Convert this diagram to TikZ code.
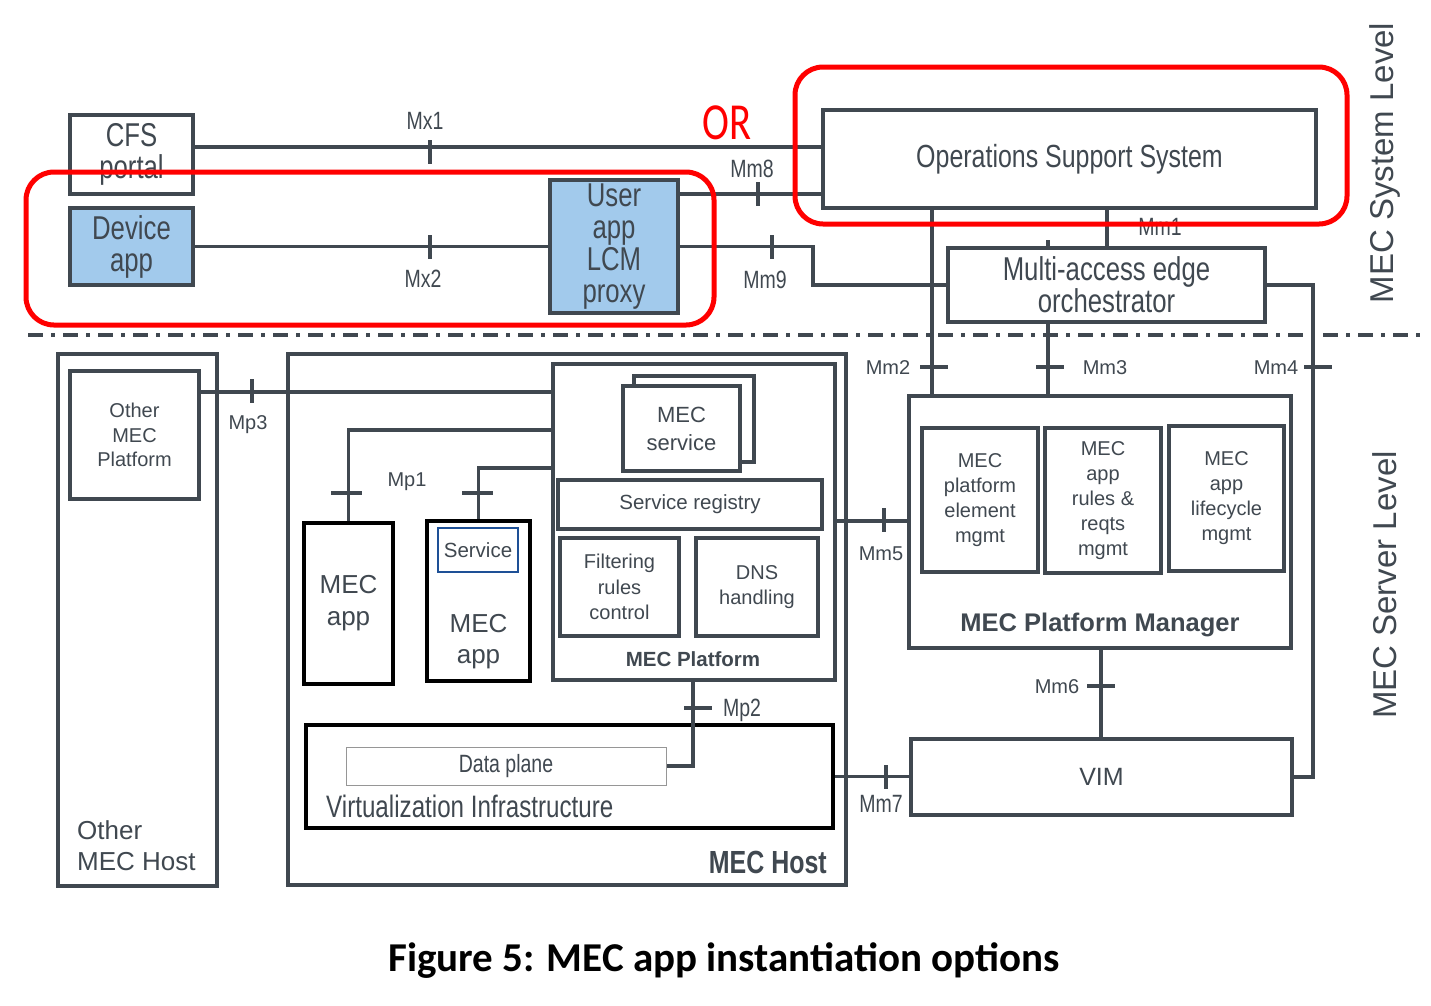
\documentclass[tikz,border=0pt]{standalone}
\usepackage{fontspec}
\setmainfont{Liberation Sans}
\newfontfamily\cnd[FakeStretch=0.78]{Liberation Sans}
\newfontfamily\capfont{Carlito}
\newfontfamily\orfont[FakeStretch=0.78]{Carlito}
\newcommand\fs[2]{\fontsize{#1}{#2}\selectfont}
\definecolor{main}{RGB}{64,72,80}
\definecolor{appblue}{RGB}{162,202,236}
\definecolor{svcblue}{RGB}{30,80,150}
\definecolor{dpgrey}{RGB}{150,150,150}
\tikzset{
  box/.style={draw=main, line width=3.5pt, fill=white, inner sep=0pt, align=center, text=main},
  bbox/.style={draw=black, line width=4.5pt, fill=white, inner sep=0pt, align=center, text=main},
  conn/.style={draw=main, line width=3.5pt},
  vtick/.style={fill=main, inner sep=0pt, minimum width=3.5pt, minimum height=24pt},
  htick/.style={fill=main, inner sep=0pt, minimum width=28pt, minimum height=3.5pt},
  lbl/.style={text=main, inner sep=0pt, font=\fs{20}{24}},
  tlbl/.style={text=main, inner sep=0pt, font=\cnd\fs{25}{30}},
  redbox/.style={draw=red, line width=5pt, rounded corners=28pt, inner sep=0pt},
  big/.style={font=\cnd\fs{33}{32}},
}
\begin{document}
\begin{tikzpicture}[x=1pt,y=-1pt]
\useasboundingbox (0,0) rectangle (1431,1005);
% helper coordinates
\coordinate (xa) at (932,0);
\coordinate (xb) at (1048,0);
\coordinate (xc) at (1107,0);
\coordinate (xd) at (1101,0);
\coordinate (xe) at (693,0);
\coordinate (ya) at (0,147);
\coordinate (yb) at (0,194);
\coordinate (yd) at (0,392);
\coordinate (ye) at (0,430);
\coordinate (yf) at (0,468);
\coordinate (yg) at (0,521);
\coordinate (mm9c) at (813,285);
\coordinate (mm4c) at (1313,777);

% ---------- lower containers ----------
\node[box, minimum width=159pt, minimum height=532pt] (omh) at (137.5,620) {};
\node[lbl, anchor=west, align=left, font=\fs{26}{31}] (omht) at (77,846) {Other\\MEC Host};
\node[box, minimum width=129pt, minimum height=128pt, font=\fs{20}{24.5}] (omp) at (134.5,435) {Other\\MEC\\Platform};
\node[box, minimum width=558pt, minimum height=531pt] (host) at (567,619.5) {};
\node[lbl, anchor=east, font=\cnd\bfseries\fs{32}{36}] (hostt) at (827,862) {MEC Host};

\node[box, minimum width=282pt, minimum height=316pt] (plat) at (694,522) {};
\node[lbl, font=\bfseries\fs{20.5}{24}] (platt) at (693,659) {MEC Platform};
\node[box, minimum width=120pt, minimum height=86pt] (svcb) at (694,419) {};
\node[box, minimum width=117pt, minimum height=85pt, font=\fs{22}{28}] (svc) at (681.5,428.5) {MEC\\service};
\node[box, minimum width=264pt, minimum height=49pt, font=\fs{20.5}{24}] (reg) at (690,504.5) {Service registry};
\node[box, minimum width=119pt, minimum height=98pt, font=\fs{20}{25.5}] (filt) at (619.5,587) {Filtering\\rules\\control};
\node[box, minimum width=122pt, minimum height=98pt, font=\fs{20}{25}] (dns) at (757,587) {DNS\\handling};

\node[bbox, minimum width=89pt, minimum height=161pt, font=\fs{26}{32}] (app1) at (348.5,603.5) {MEC\\app};
\node[bbox, minimum width=103pt, minimum height=160pt] (app2) at (478.5,601) {};
\node[draw=svcblue, line width=1.2pt, fill=white, inner sep=0pt, minimum width=80pt, minimum height=44pt, text=main, font=\fs{20.5}{24}] (svci) at (478,550) {Service};
\node[lbl, align=center, font=\fs{26}{31}] (app2t) at (478.5,642) {MEC\\app};

\node[bbox, minimum width=527pt, minimum height=103pt] (vi) at (569.5,776.5) {};
\node[draw=dpgrey, line width=1pt, fill=white, inner sep=0pt, minimum width=320pt, minimum height=38pt, text=main, font=\cnd\fs{25}{30}] (dp) at (506,766) {Data plane};
\node[lbl, anchor=west, font=\cnd\fs{31}{36}] (vit) at (326,806) {Virtualization Infrastructure};

\node[box, minimum width=382pt, minimum height=252pt] (mpm) at (1100,522) {};
\node[lbl, font=\bfseries\fs{25.5}{30}] (mpmt) at (1100,625) {MEC Platform Manager};
\node[box, minimum width=116pt, minimum height=144pt, font=\fs{20}{25}] (pe) at (980,500) {MEC\\platform\\element\\mgmt};
\node[box, minimum width=116pt, minimum height=145pt, font=\fs{20}{25}] (ar) at (1103,500.5) {MEC\\app\\rules \&\\reqts\\mgmt};
\node[box, minimum width=115pt, minimum height=145pt, font=\fs{20}{25}] (lc) at (1226.5,498.5) {MEC\\app\\lifecycle\\mgmt};
\node[box, minimum width=381pt, minimum height=76pt, font=\fs{25}{30}] (vim) at (1101.5,777) {VIM};

% ---------- upper boxes ----------
\node[box, big, minimum width=123pt, minimum height=79pt] (cfs) at (131.5,154.5) {CFS\\portal};
\node[box, big, fill=appblue, minimum width=123pt, minimum height=77pt] (dev) at (131.5,246.5) {Device\\app};
\node[box, big, fill=appblue, minimum width=128pt, minimum height=133pt] (lcm) at (614,246.5) {User\\app\\LCM\\proxy};
\node[box, font=\cnd\fs{32}{36}, minimum width=493pt, minimum height=98pt] (oss) at (1069.5,159) {Operations Support System};
\node[box, big, minimum width=317pt, minimum height=74pt] (meo) at (1106.5,285) {Multi-access edge\\orchestrator};

% ---------- connectors ----------
\draw[conn] (cfs.east |- ya) -- (oss.west |- ya);
\draw[conn] (dev.east) -- (lcm.west |- dev.east);
\draw[conn] (lcm.east |- yb) -- (oss.west |- yb);
\draw[conn] (lcm.east |- dev.east) -| (mm9c) -- (meo.west);
\draw[conn] (oss.south -| xc) -- (meo.north -| xc);
\draw[conn] (meo.north -| xb) -- ++(0,-6);
\draw[conn] (oss.south -| xa) -- (mpm.north -| xa);
\draw[conn] (meo.south -| xb) -- (mpm.north -| xb);
\draw[conn] (meo.east) -| (mm4c) -- (vim.east);
\draw[conn] (plat.east |- yg) -- (mpm.west |- yg);
\draw[conn] (mpm.south -| xd) -- (vim.north -| xd);
\draw[conn] (vi.east) -- (vim.west |- vi.east);
\draw[conn] (plat.west |- ye) -| (app1.north);
\draw[conn] (plat.west |- yf) -| (app2.north);
\draw[conn] (plat.south -| xe) |- (dp.east);
\draw[conn] (omp.east |- yd) -- (plat.west |- yd);

% ---------- ticks ----------
\node[vtick] (t1) at (430,152) {};
\node[vtick] (t2) at (430,246.5) {};
\node[vtick] (t3) at (758,194) {};
\node[vtick] (t4) at (772,247) {};
\node[htick] (t5) at (934,367) {};
\node[htick] (t6) at (1049.5,367) {};
\node[htick] (t7) at (1318,367) {};
\node[vtick] (t8) at (252,391) {};
\node[htick, minimum width=31pt] (t9) at (346.5,493) {};
\node[htick, minimum width=31pt] (t10) at (477.5,493) {};
\node[vtick] (t11) at (884,520) {};
\node[htick] (t12) at (1101,686) {};
\node[htick] (t13) at (698,708) {};
\node[vtick] (t14) at (886,777) {};

% ---------- interface labels ----------
\node[tlbl] (lmx1) at (425,121) {Mx1};
\node[tlbl] (lmx2) at (423,279) {Mx2};
\node[tlbl] (lmm8) at (752,169) {Mm8};
\node[tlbl] (lmm9) at (765,280) {Mm9};
\node[tlbl] (lmm1) at (1160,227) {Mm1};
\node[lbl] (lmm2) at (888,368) {Mm2};
\node[lbl] (lmm3) at (1105,368) {Mm3};
\node[lbl] (lmm4) at (1276,368) {Mm4};
\node[lbl] (lmp3) at (248,425) {Mp3};
\node[lbl] (lmp1) at (407,482) {Mp1};
\node[lbl] (lmm5) at (881,554) {Mm5};
\node[lbl] (lmm6) at (1057,687) {Mm6};
\node[tlbl] (lmp2) at (742,710) {Mp2};
\node[tlbl] (lmm7) at (881,804) {Mm7};

% ---------- level separator ----------
\draw[main, line width=3.5pt, dash pattern=on 15pt off 8pt on 4pt off 8pt] (28,335) -- (1420,335);
\node[lbl, rotate=90, font=\fs{33}{36}] (sysl) at (1385,163) {MEC System Level};
\node[lbl, rotate=90, font=\fs{33}{36}] (srvl) at (1385,585) {MEC Server Level};

% ---------- red highlights ----------
\node[redbox, minimum width=552pt, minimum height=157pt] (orA) at (1071,145.5) {};
\node[redbox, minimum width=688pt, minimum height=153pt] (orB) at (370,248.5) {};
\node[text=red, inner sep=0pt, font=\orfont\fs{52}{56}] (ortxt) at (727,123) {OR};

% ---------- caption ----------
\node[inner sep=0pt, font=\capfont\bfseries\fs{41}{46}] (cap) at (724,961) {Figure 5: MEC app instantiation options};
\end{tikzpicture}
\end{document}
